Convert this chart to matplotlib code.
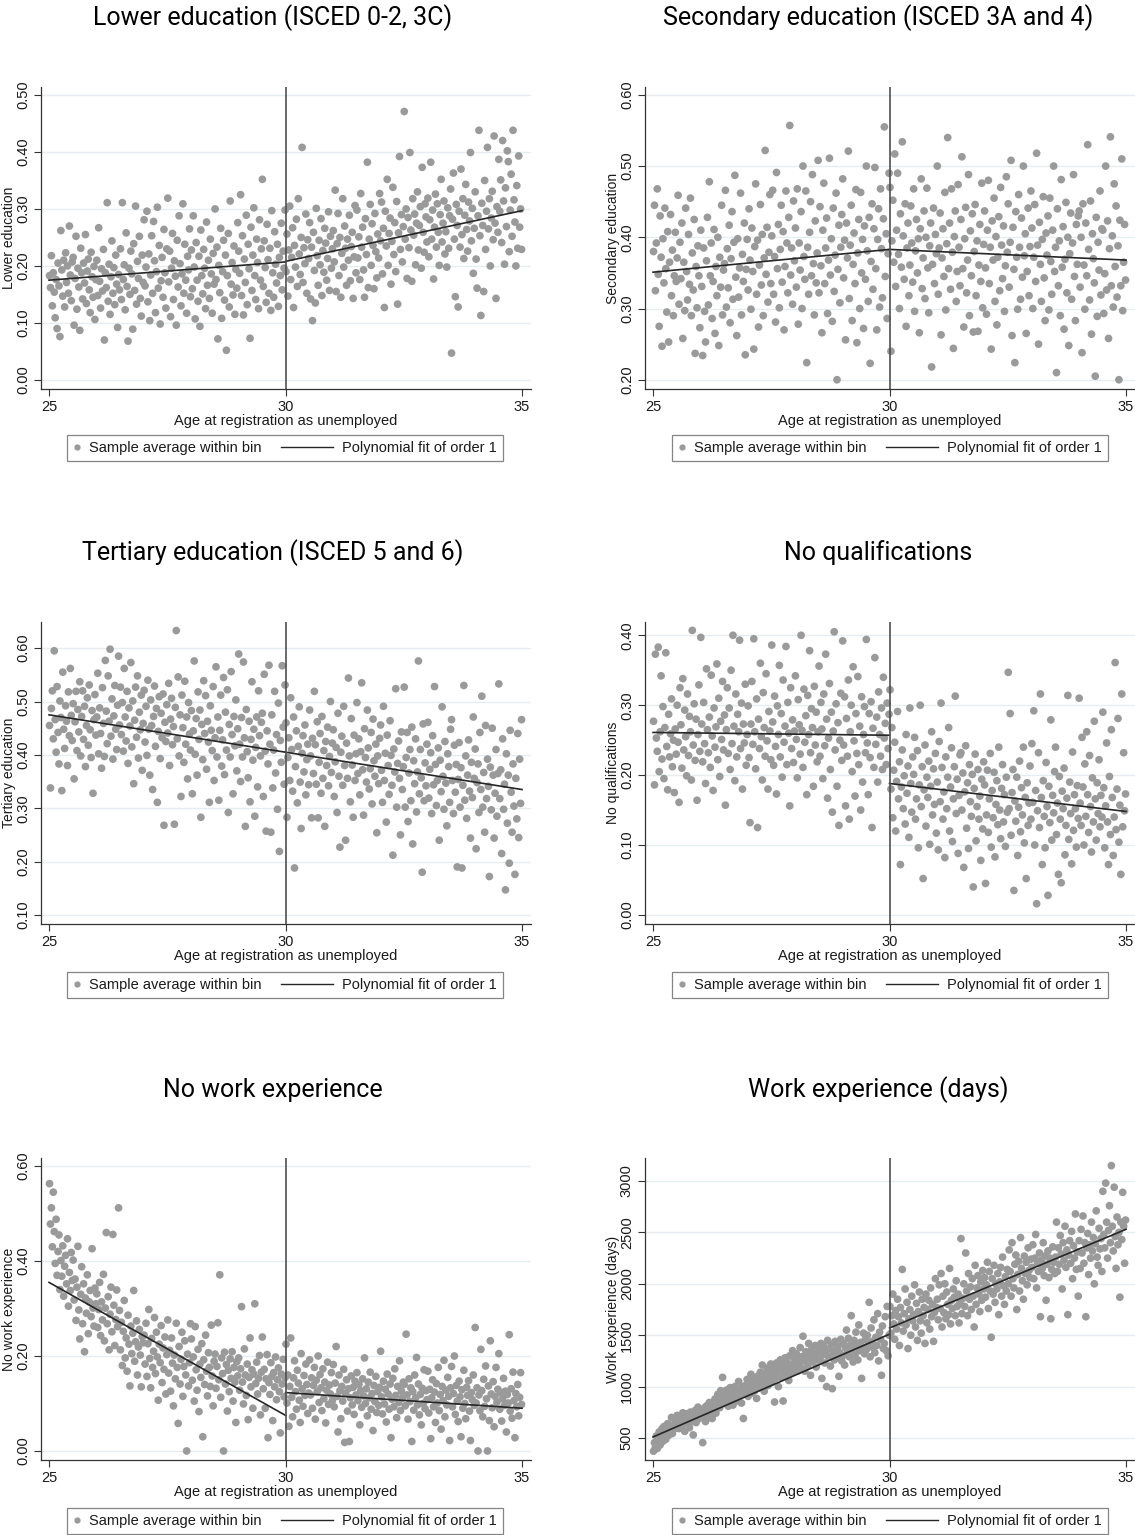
import numpy as np
import matplotlib
matplotlib.use('Agg')
import matplotlib.pyplot as plt
from matplotlib.lines import Line2D
from matplotlib.legend_handler import HandlerLine2D

# Bin averages either side of age 30 (shares in per mille, work experience in days)
lower_left = [
    183, 162, 218, 130, 188, 154, 109, 176, 90, 205, 165, 76, 262, 193, 147, 210, 128, 223, 171, 200, 152, 270, 184, 139, 207,
    215, 96, 178, 252, 124, 196, 163, 87, 231, 188, 142, 205, 170, 255, 134, 191, 212, 158, 118, 224, 181, 145, 199, 106, 176,
    210, 148, 267, 173, 126, 195, 156, 229, 70, 188, 162, 311, 138, 203, 115, 181, 244, 152, 197, 132, 219, 168, 92, 185, 158,
    230, 141, 311, 176, 202, 123, 258, 164, 68, 196, 150, 226, 186, 89, 239, 157, 305, 133, 208, 178, 252, 143, 112, 219, 171,
    281, 165, 198, 296, 137, 221, 104, 184, 253, 152, 278, 209, 118, 190, 303, 161, 236, 98, 174, 215, 145, 264, 188, 126, 230,
    319, 172, 226, 111, 196, 257, 141, 209, 182, 96, 245, 163, 288, 204, 130, 186, 309, 152, 238, 175, 117, 217, 193, 265, 146,
    228, 160, 288, 198, 107, 241, 175, 138, 217, 94, 263, 183, 151, 229, 196, 125, 277, 166, 210, 143, 247, 186, 117, 222, 168,
    300, 176, 233, 72, 201, 153, 266, 108, 190, 245, 140, 219, 52, 183, 257, 128, 314, 168, 206, 149, 235, 115, 194, 161, 276,
    226, 187, 325, 148, 253, 114, 212, 171, 289, 132, 238, 195, 73, 268, 157, 219, 302, 183, 141, 247, 206, 125, 281, 175, 230,
    352, 164, 244, 197, 136, 273, 211, 152, 231, 122, 297, 188, 145, 260, 203, 170, 238, 129, 215, 183, 275, 158, 226, 196, 298,
]
lower_right = [
    190, 256, 147, 228, 305, 176, 215, 267, 127, 236, 198, 282, 164, 318, 221, 185, 250, 408, 171, 232, 204, 291, 152, 246, 213,
    276, 142, 233, 104, 259, 192, 135, 301, 218, 166, 245, 202, 283, 148, 227, 189, 266, 240, 175, 213, 295, 157, 252, 196, 230,
    262, 207, 333, 155, 239, 292, 183, 250, 145, 222, 318, 198, 270, 231, 166, 247, 210, 289, 174, 234, 259, 143, 216, 306, 188,
    298, 214, 251, 176, 327, 233, 268, 193, 145, 283, 220, 382, 162, 247, 308, 201, 274, 236, 160, 292, 225, 179, 256, 214, 327,
    244, 312, 186, 266, 127, 296, 235, 352, 201, 257, 284, 168, 243, 338, 220, 276, 190, 313, 133, 258, 392, 229, 290, 207, 269,
    471, 247, 300, 178, 285, 232, 399, 263, 173, 318, 254, 291, 202, 275, 330, 228, 271, 304, 196, 373, 259, 224, 309, 286, 242,
    319, 216, 281, 382, 247, 298, 177, 268, 326, 233, 309, 259, 201, 290, 352, 242, 275, 314, 221, 260, 198, 302, 231, 288, 335,
    47, 282, 363, 247, 146, 308, 271, 128, 296, 233, 370, 255, 318, 213, 289, 343, 264, 226, 312, 279, 399, 244, 301, 187, 266,
    330, 212, 161, 288, 438, 253, 113, 310, 271, 155, 350, 229, 296, 408, 265, 318, 200, 284, 331, 246, 428, 275, 143, 304, 259,
    387, 296, 351, 241, 420, 314, 203, 337, 269, 402, 383, 225, 298, 361, 252, 438, 316, 277, 200, 341, 231, 393, 268, 300, 229,
]

secondary_left = [
    380, 445, 325, 392, 468, 348, 275, 430, 372, 247, 398, 336, 441, 356, 295, 408, 253, 365, 432, 318, 382, 290, 346, 407, 338,
    371, 459, 306, 393, 342, 420, 258, 365, 297, 441, 352, 312, 404, 334, 455, 290, 378, 326, 425, 237, 359, 301, 388, 346, 273,
    410, 331, 234, 385, 296, 253, 367, 428, 305, 478, 346, 392, 286, 338, 411, 265, 359, 318, 400, 248, 372, 330, 445, 291, 354,
    363, 466, 302, 384, 329, 417, 280, 370, 436, 313, 393, 487, 344, 262, 398, 316, 357, 462, 291, 376, 338, 420, 235, 355, 397,
    326, 440, 368, 299, 413, 352, 243, 387, 475, 320, 396, 274, 361, 446, 333, 404, 290, 371, 522, 348, 414, 309, 379, 460, 335,
    402, 466, 320, 373, 281, 491, 356, 418, 301, 383, 445, 337, 408, 270, 359, 465, 392, 322, 428, 557, 347, 385, 306, 451, 367,
    413, 330, 468, 278, 392, 354, 436, 300, 500, 373, 341, 465, 224, 386, 320, 407, 450, 346, 488, 363, 291, 423, 336, 378, 508,
    322, 443, 360, 266, 410, 476, 335, 385, 427, 293, 368, 511, 347, 398, 282, 441, 324, 375, 462, 200, 355, 417, 308, 386, 432,
    482, 343, 396, 256, 420, 371, 521, 314, 389, 445, 283, 362, 406, 335, 467, 252, 378, 425, 300, 463, 350, 397, 272, 416, 341,
    500, 381, 310, 428, 223, 366, 447, 327, 412, 498, 356, 270, 397, 440, 302, 468, 384, 315, 426, 555, 345, 405, 286, 377, 490,
]
secondary_right = [
    470, 240, 395, 452, 365, 517, 331, 410, 490, 376, 300, 433, 358, 534, 402, 341, 447, 275, 385, 420, 318, 361, 444, 392, 337,
    468, 296, 381, 425, 350, 398, 266, 412, 482, 328, 371, 437, 314, 400, 469, 357, 294, 388, 420, 218, 362, 441, 335, 404, 377,
    500, 320, 385, 434, 263, 371, 412, 345, 463, 298, 391, 540, 356, 420, 327, 468, 379, 244, 401, 437, 310, 352, 474, 386, 332,
    425, 513, 356, 274, 398, 442, 322, 368, 488, 290, 409, 346, 433, 267, 380, 446, 318, 395, 268, 361, 418, 338, 476, 301, 390,
    437, 357, 292, 410, 480, 335, 386, 243, 423, 368, 455, 310, 401, 277, 372, 429, 325, 470, 389, 342, 416, 296, 360, 485, 379,
    447, 330, 393, 508, 262, 414, 355, 224, 436, 372, 299, 460, 386, 313, 427, 344, 500, 374, 405, 265, 352, 441, 318, 387, 465,
    413, 300, 372, 446, 338, 518, 389, 250, 421, 362, 310, 397, 457, 343, 283, 406, 375, 430, 298, 455, 366, 320, 410, 500, 352,
    386, 210, 440, 332, 395, 290, 481, 358, 415, 271, 369, 449, 322, 400, 248, 377, 434, 313, 392, 488, 345, 283, 418, 362, 430,
    437, 330, 400, 238, 447, 361, 299, 420, 346, 530, 383, 312, 451, 264, 405, 370, 336, 205, 428, 289, 393, 354, 465, 319, 412,
    410, 293, 349, 500, 326, 423, 258, 384, 541, 332, 402, 302, 475, 359, 444, 316, 388, 200, 424, 332, 510, 297, 365, 418, 340,
]

tertiary_left = [
    455, 338, 487, 520, 430, 595, 466, 405, 528, 442, 383, 501, 470, 333, 555, 448, 412, 492, 463, 380, 518, 436, 562, 474, 427,
    496, 355, 462, 519, 408, 485, 443, 537, 398, 472, 520, 429, 491, 378, 455, 507, 418, 531, 447, 395, 483, 328, 466, 513, 437,
    471, 553, 402, 488, 440, 375, 526, 459, 397, 577, 482, 421, 548, 463, 598, 435, 505, 392, 473, 530, 448, 410, 493, 585, 456,
    527, 438, 498, 407, 562, 471, 426, 519, 384, 488, 454, 573, 415, 501, 346, 465, 527, 433, 548, 394, 480, 447, 512, 371, 459,
    521, 424, 491, 399, 540, 448, 362, 503, 455, 335, 472, 529, 416, 487, 311, 444, 509, 393, 478, 432, 514, 268, 461, 425, 494,
    441, 534, 380, 467, 506, 419, 453, 270, 489, 633, 430, 546, 398, 475, 322, 512, 451, 386, 538, 420, 471, 355, 498, 439, 409,
    483, 327, 445, 576, 401, 468, 362, 518, 429, 484, 283, 457, 391, 539, 440, 511, 373, 463, 424, 311, 492, 446, 408, 528, 352,
    432, 565, 396, 471, 315, 446, 512, 379, 428, 545, 363, 480, 409, 522, 292, 457, 396, 556, 438, 327, 472, 417, 503, 370, 449,
    589, 420, 350, 470, 396, 574, 432, 266, 485, 406, 357, 463, 312, 429, 537, 390, 448, 285, 414, 471, 340, 520, 436, 398, 461,
    478, 322, 551, 407, 257, 445, 383, 568, 420, 255, 475, 338, 409, 519, 366, 438, 298, 497, 219, 427, 386, 567, 452, 345, 531,
]
tertiary_right = [
    460, 283, 395, 432, 352, 507, 410, 332, 471, 188, 378, 445, 310, 416, 490, 349, 262, 403, 436, 368, 456, 325, 391, 420, 344,
    484, 398, 282, 431, 365, 519, 419, 345, 462, 282, 386, 440, 328, 472, 356, 408, 266, 425, 380, 452, 342, 397, 500, 367, 422,
    447, 322, 387, 414, 292, 478, 360, 227, 405, 435, 343, 491, 380, 240, 422, 356, 544, 398, 312, 468, 381, 283, 437, 352, 402,
    498, 365, 430, 325, 406, 535, 372, 287, 449, 395, 349, 484, 413, 336, 374, 442, 308, 467, 389, 360, 420, 254, 398, 346, 431,
    456, 371, 311, 491, 352, 403, 274, 437, 380, 326, 464, 399, 343, 212, 411, 368, 524, 302, 384, 426, 356, 250, 443, 335, 378,
    527, 302, 395, 442, 275, 366, 410, 314, 452, 233, 389, 346, 430, 293, 368, 576, 327, 410, 357, 180, 458, 314, 385, 342, 420,
    461, 319, 373, 404, 290, 436, 344, 528, 382, 305, 352, 413, 240, 390, 331, 490, 360, 298, 425, 347, 267, 402, 378, 311, 448,
    466, 352, 290, 418, 330, 382, 190, 354, 423, 302, 376, 188, 343, 530, 315, 398, 281, 362, 428, 332, 244, 386, 320, 471, 356,
    411, 224, 348, 383, 292, 442, 335, 510, 302, 367, 255, 455, 318, 392, 341, 172, 377, 297, 450, 362, 244, 328, 410, 285, 365,
    533, 318, 372, 215, 430, 298, 345, 147, 402, 272, 362, 197, 446, 330, 255, 383, 304, 176, 356, 280, 440, 245, 392, 309, 466,
]

noqual_left = [
    277, 186, 373, 253, 234, 383, 205, 262, 342, 223, 298, 195, 268, 375, 241, 179, 287, 226, 259, 309, 212, 250, 175, 266, 230,
    300, 247, 161, 325, 272, 210, 338, 236, 293, 255, 199, 316, 228, 284, 262, 193, 407, 243, 302, 221, 280, 164, 258, 329, 234,
    397, 273, 219, 304, 245, 188, 352, 265, 232, 283, 211, 343, 256, 178, 296, 240, 269, 359, 222, 310, 198, 277, 251, 334, 236,
    286, 157, 265, 325, 231, 296, 208, 350, 245, 400, 270, 192, 316, 226, 287, 262, 393, 238, 303, 180, 273, 246, 330, 214, 258,
    299, 225, 132, 273, 334, 244, 395, 262, 209, 309, 125, 280, 238, 360, 255, 193, 318, 268, 227, 345, 249, 180, 291, 263, 222,
    386, 276, 214, 313, 241, 173, 299, 258, 357, 226, 288, 197, 336, 247, 270, 384, 215, 304, 260, 156, 325, 238, 279, 218, 263,
    342, 251, 196, 308, 272, 230, 400, 264, 211, 323, 247, 285, 172, 314, 258, 378, 232, 295, 268, 184, 327, 243, 290, 219, 262,
    356, 227, 304, 266, 195, 316, 242, 373, 280, 167, 253, 331, 208, 290, 147, 263, 405, 236, 302, 184, 275, 128, 250, 317, 221,
    392, 243, 312, 156, 281, 227, 336, 137, 262, 300, 205, 355, 249, 170, 288, 231, 341, 215, 270, 150, 312, 190, 258, 298, 232,
    394, 246, 172, 288, 225, 305, 125, 267, 211, 368, 244, 283, 190, 319, 258, 227, 296, 208, 340, 253, 274, 215, 303, 238, 287,
]
noqual_right = [
    322, 180, 268, 139, 207, 247, 120, 191, 291, 166, 219, 72, 183, 236, 152, 199, 130, 258, 174, 213, 111, 296, 188, 147, 226,
    201, 254, 137, 166, 235, 96, 186, 300, 155, 212, 52, 179, 243, 127, 197, 168, 220, 101, 184, 262, 143, 209, 158, 231, 117,
    190, 93, 248, 162, 303, 211, 137, 176, 82, 226, 152, 197, 268, 120, 183, 239, 105, 166, 212, 313, 145, 194, 88, 171, 229,
    232, 150, 203, 68, 176, 242, 124, 189, 95, 215, 162, 141, 201, 40, 181, 230, 106, 155, 208, 137, 170, 78, 194, 123, 219,
    186, 45, 143, 207, 118, 166, 231, 97, 178, 139, 204, 83, 158, 192, 129, 240, 150, 109, 181, 215, 133, 172, 98, 197, 147,
    347, 152, 288, 114, 175, 208, 35, 163, 134, 197, 85, 154, 220, 119, 182, 143, 240, 103, 168, 52, 189, 128, 160, 213, 137,
    245, 161, 292, 100, 178, 16, 149, 232, 125, 316, 168, 72, 192, 141, 96, 218, 155, 28, 184, 132, 279, 107, 171, 146, 205,
    240, 115, 160, 58, 198, 137, 46, 177, 152, 210, 86, 128, 167, 314, 108, 190, 145, 73, 233, 121, 172, 152, 97, 185, 138,
    310, 160, 128, 254, 183, 100, 216, 141, 262, 172, 118, 228, 155, 90, 196, 133, 277, 166, 107, 189, 145, 222, 126, 171, 140,
    290, 182, 96, 156, 246, 133, 72, 198, 115, 265, 168, 85, 140, 361, 122, 180, 281, 104, 157, 58, 316, 126, 232, 149, 173,
]

nowork_left = [
    563, 478, 512, 430, 545, 462, 395, 488, 370, 420, 455, 340, 401, 368, 432, 326, 389, 412, 352, 447, 305, 376, 338, 418, 359,
    402, 318, 362, 275, 345, 431, 297, 236, 330, 388, 268, 352, 209, 322, 290, 371, 247, 314, 338, 283, 426, 301, 263, 343, 310,
    331, 260, 298, 355, 243, 314, 276, 372, 232, 301, 460, 268, 325, 213, 288, 345, 251, 456, 307, 222, 277, 339, 262, 512, 296,
    213, 271, 180, 252, 317, 196, 238, 168, 286, 225, 137, 263, 205, 248, 338, 189, 230, 274, 160, 219, 256, 202, 135, 241, 228,
    244, 183, 269, 157, 226, 298, 195, 133, 237, 176, 210, 281, 163, 250, 198, 107, 225, 186, 264, 144, 217, 172, 240, 120, 203,
    276, 164, 212, 126, 238, 185, 95, 202, 152, 269, 176, 58, 220, 141, 193, 250, 115, 178, 232, 160, 0, 204, 137, 186, 268,
    236, 149, 198, 105, 262, 171, 128, 214, 83, 183, 155, 226, 30, 192, 140, 244, 168, 116, 207, 176, 136, 265, 158, 95, 189,
    204, 132, 178, 270, 150, 371, 113, 196, 163, 0, 208, 141, 182, 84, 170, 125, 194, 153, 209, 105, 176, 145, 60, 188, 158,
    196, 128, 173, 304, 145, 99, 215, 160, 117, 183, 66, 155, 238, 135, 171, 90, 162, 310, 142, 187, 120, 153, 201, 76, 166,
    240, 131, 172, 90, 152, 203, 28, 144, 119, 186, 157, 64, 165, 135, 198, 108, 150, 175, 125, 38, 162, 141, 193, 114, 155,
]
nowork_right = [
    225, 101, 160, 52, 136, 238, 113, 72, 154, 190, 125, 88, 170, 143, 107, 60, 205, 131, 94, 159, 117, 183, 140, 79, 122,
    192, 118, 154, 90, 138, 176, 67, 149, 125, 200, 102, 161, 133, 85, 173, 110, 145, 59, 128, 187, 98, 139, 120, 165, 106,
    182, 93, 143, 220, 115, 40, 160, 127, 68, 136, 105, 172, 18, 121, 150, 84, 131, 20, 112, 158, 97, 134, 77, 147, 118,
    165, 106, 140, 55, 127, 92, 152, 116, 196, 100, 131, 74, 145, 112, 166, 88, 121, 43, 138, 104, 157, 81, 125, 96, 134,
    210, 114, 78, 147, 99, 130, 61, 162, 120, 88, 141, 28, 109, 153, 93, 173, 117, 70, 136, 102, 190, 85, 126, 111, 145,
    140, 95, 246, 118, 67, 152, 104, 133, 20, 125, 86, 160, 112, 197, 97, 141, 76, 119, 55, 132, 100, 171, 89, 127, 108,
    168, 80, 130, 26, 112, 150, 93, 124, 60, 142, 101, 176, 85, 119, 46, 136, 106, 191, 72, 128, 97, 155, 115, 22, 133,
    178, 93, 121, 200, 77, 138, 105, 62, 147, 114, 30, 129, 90, 170, 100, 68, 134, 117, 148, 84, 22, 123, 108, 160, 96,
    260, 101, 133, 0, 118, 85, 214, 127, 72, 151, 94, 179, 110, 0, 137, 64, 232, 120, 91, 146, 51, 115, 176, 103, 130,
    205, 88, 123, 63, 110, 153, 96, 126, 40, 119, 101, 245, 84, 131, 69, 166, 106, 28, 121, 93, 140, 74, 113, 165, 98,
]

workdays_left = [
    372, 455, 410, 520, 398, 478, 560, 432, 505, 590, 468, 612, 540, 487, 575, 640, 526, 603, 568, 700, 544, 622, 590, 665, 610,
    720, 648, 592, 705, 676, 620, 745, 690, 565, 712, 735, 640, 688, 600, 752, 715, 660, 530, 705, 768, 650, 724, 800, 688, 742,
    770, 705, 455, 738, 795, 660, 812, 752, 700, 845, 780, 712, 690, 826, 770, 880, 742, 808, 925, 860, 795, 960, 845, 1090, 905,
    900, 835, 965, 875, 810, 930, 990, 860, 950, 820, 905, 1000, 880, 940, 860, 1050, 915, 975, 840, 1000, 690, 930, 1010, 965, 1070,
    905, 1040, 980, 1120, 935, 1010, 1080, 960, 1035, 885, 1100, 1060, 990, 1140, 1020, 1210, 1070, 955, 1130, 1050, 1180, 1010, 1150, 1100, 1220,
    1040, 1190, 1120, 850, 1080, 1230, 1150, 1000, 1170, 1260, 1090, 1200, 860, 1140, 1280, 1110, 1240, 1180, 1060, 1300, 1210, 1130, 1350, 1170, 1260,
    1210, 1320, 1150, 1280, 1230, 1380, 1180, 1290, 1490, 1250, 1150, 1340, 1270, 1200, 1420, 1310, 1110, 1360, 1240, 1330, 1280, 1400, 1190, 1300, 1260,
    1350, 1260, 1420, 1080, 1310, 1390, 1230, 1330, 1000, 1450, 1290, 1370, 1200, 1410, 980, 1320, 1260, 1440, 1350, 1280, 1390, 1100, 1330, 1460, 1250,
    1300, 1420, 1210, 1380, 1550, 1330, 1470, 1290, 1400, 1690, 1360, 1240, 1450, 1310, 1530, 1390, 1260, 1600, 1350, 1430, 1080, 1380, 1520, 1320, 1460,
    1360, 1500, 1410, 1820, 1290, 1570, 1440, 1380, 1650, 1330, 1480, 1400, 1710, 1250, 1530, 1460, 1110, 1590, 1370, 1420, 1680, 1350, 1780, 1300, 1500,
]
workdays_right = [
    1780, 1520, 1690, 1900, 1610, 1460, 1740, 1560, 1850, 1680, 1400, 1770, 1620, 2140, 1540, 1710, 1950, 1600, 1820, 1370, 1660, 1750, 1500, 1880, 1640,
    1700, 1990, 1580, 1810, 1450, 1730, 1920, 1640, 1520, 1850, 1690, 1770, 1420, 1900, 1620, 1750, 1840, 1560, 1960, 1680, 1800, 1440, 1720, 2050, 1770,
    1850, 1650, 1990, 1760, 2100, 1580, 1880, 1720, 2000, 1660, 1920, 1800, 1700, 2150, 1610, 1840, 1760, 1950, 1870, 1690, 2030, 1780, 1900, 1620, 1820,
    2440, 1710, 1860, 2000, 1780, 2300, 1930, 1690, 2100, 1850, 1970, 1750, 2050, 1880, 1580, 2180, 1800, 1960, 2080, 1900, 1730, 2020, 1840, 2130, 1950,
    2060, 1870, 1990, 2210, 1760, 2120, 1930, 1480, 2050, 1900, 2180, 1820, 2000, 1950, 2100, 1700, 2020, 2160, 1880, 2260, 1980, 1800, 2070, 1930, 2140,
    2000, 2330, 2120, 1880, 2400, 2050, 1960, 2190, 2280, 1750, 2090, 2220, 1930, 2450, 2150, 2030, 1850, 2270, 2100, 2210, 1990, 2350, 2130, 2060, 2240,
    2160, 2380, 2050, 2250, 2480, 1960, 2200, 2120, 2300, 1680, 2230, 2150, 2400, 2080, 2270, 1840, 2190, 2320, 2060, 2250, 1660, 2140, 2360, 2210, 2100,
    2260, 2600, 2120, 2350, 2190, 2470, 2290, 1950, 2400, 2230, 2560, 2160, 2330, 1700, 2280, 2420, 2200, 2510, 2050, 2370, 2250, 2680, 2140, 2310, 1880,
    2420, 2150, 2530, 2300, 2660, 2200, 2400, 1680, 2350, 2490, 2090, 2380, 2250, 2600, 2320, 2450, 2000, 2390, 2710, 2260, 2180, 2540, 2340, 2440, 2120,
    2900, 2480, 2350, 2980, 2600, 2250, 2520, 2760, 2400, 3150, 2560, 2320, 2940, 2460, 2150, 2650, 2380, 2500, 1870, 2600, 2430, 2890, 2560, 2200, 2620,
]

# Linear fits on each side: [value at start, value at end]
lower_fit = [[0.175, 0.207], [0.208, 0.297]]
secondary_fit = [[0.351, 0.383], [0.383, 0.368]]
tertiary_fit = [[0.475, 0.405], [0.405, 0.335]]
noqual_fit = [[0.261, 0.257], [0.188, 0.148]]
nowork_fit = [[0.355, 0.075], [0.123, 0.090]]
workdays_fit = [[510, 1510], [1570, 2530]]

titles = ['Lower education (ISCED 0-2, 3C)', 'Secondary education (ISCED 3A and 4)',
          'Tertiary education (ISCED 5 and 6)', 'No qualifications',
          'No work experience', 'Work experience (days)']
ylabels = ['Lower education', 'Secondary education', 'Tertiary education',
           'No qualifications', 'No work experience', 'Work experience (days)']

panels = [
    (lower_left, lower_right, lower_fit, 1000, (-0.016, 0.514), np.arange(0, 0.51, 0.1), '{:.2f}'),
    (secondary_left, secondary_right, secondary_fit, 1000, (0.187, 0.611), np.arange(0.2, 0.61, 0.1), '{:.2f}'),
    (tertiary_left, tertiary_right, tertiary_fit, 1000, (0.083, 0.649), np.arange(0.1, 0.61, 0.1), '{:.2f}'),
    (noqual_left, noqual_right, noqual_fit, 1000, (-0.013, 0.419), np.arange(0, 0.41, 0.1), '{:.2f}'),
    (nowork_left, nowork_right, nowork_fit, 1000, (-0.019, 0.617), np.arange(0, 0.61, 0.2), '{:.2f}'),
    (workdays_left, workdays_right, workdays_fit, 1, (286, 3224), np.arange(500, 3001, 500), '{:.0f}'),
]

W, H = 1135, 1535
col_left = [41, 645]
ax_w = 490
row_top = [87, 622, 1158]
ax_h = 302
title_x = [273, 878]
title_y = [18, 553, 1090]
legend_x = [285, 890]
legend_y = [448, 985, 1521]

dot_color = '#9a9a9a'
ink = '#1a1a1a'
axis_font = 'Liberation Sans'


class DotHandler(HandlerLine2D):
    # short handle box so the dot sits right next to its label
    def legend_artist(self, legend, orig_handle, fontsize, handlebox):
        handlebox.width = 0.5 * fontsize
        return super().legend_artist(legend, orig_handle, fontsize, handlebox)


fig = plt.figure(figsize=(W / 100, H / 100), dpi=100)

for i, (left, right, fit, scale, ylim, yticks, fmt) in enumerate(panels):
    r, c = divmod(i, 2)
    x0, y0 = col_left[c], row_top[r]
    ax = fig.add_axes([x0 / W, 1 - (y0 + ax_h) / H, ax_w / W, ax_h / H])

    yl = np.array(left) / scale
    yr = np.array(right) / scale
    xl = 25 + 5 * (np.arange(len(yl)) + 0.5) / len(yl)
    xr = 30 + 5 * (np.arange(len(yr)) + 0.5) / len(yr)

    ax.scatter(xl, yl, s=31, color=dot_color, edgecolors='none', zorder=2)
    ax.scatter(xr, yr, s=31, color=dot_color, edgecolors='none', zorder=2)
    ax.plot([25, 30], fit[0], color='#262626', lw=1.2, zorder=3)
    ax.plot([30, 35], fit[1], color='#262626', lw=1.2, zorder=3)
    ax.axvline(30, color='#505050', lw=1.2, zorder=3)

    ax.set_xlim(24.83, 35.19)
    ax.set_ylim(*ylim)
    ax.set_xticks([25, 30, 35])
    ax.set_yticks(yticks)
    ax.set_yticklabels([fmt.format(v) for v in yticks], rotation=90, va='center',
                       family=axis_font, fontsize=10.5)
    ax.set_xticklabels(['25', '30', '35'], family=axis_font, fontsize=10.5)
    ax.tick_params(direction='out', length=5, width=0.8, color='#333333',
                   labelcolor=ink)
    ax.tick_params(axis='x', pad=3)
    ax.tick_params(axis='y', pad=3)

    ax.yaxis.grid(True, color='#e4eef0', lw=1)
    ax.set_axisbelow(True)
    for side in ['top', 'right']:
        ax.spines[side].set_visible(False)
    for side in ['left', 'bottom']:
        ax.spines[side].set_color('#333333')
        ax.spines[side].set_linewidth(0.9)

    ax.set_xlabel('Age at registration as unemployed', family=axis_font,
                  fontsize=10.5, color=ink, labelpad=0)
    ax.set_ylabel(ylabels[i], family=axis_font, fontsize=10, color=ink, labelpad=0)

    fig.text(title_x[c] / W, 1 - title_y[r] / H, titles[i], ha='center', va='center',
             family='Roboto', fontsize=18, color='#000000')

    dot = Line2D([], [], ls='none', marker='o', ms=3.5, color=dot_color)
    line = Line2D([], [], color='#262626', lw=1)
    leg = ax.legend([dot, line], ['Sample average within bin', 'Polynomial fit of order 1'],
                    ncol=2, loc='center',
                    bbox_to_anchor=(legend_x[c] / W, 1 - legend_y[r] / H),
                    bbox_transform=fig.transFigure, frameon=True, fancybox=False,
                    edgecolor='#666666', handlelength=3.6,
                    handletextpad=0.6, columnspacing=1.3, borderpad=0.4,
                    prop={'family': axis_font, 'size': 10.5},
                    handler_map={dot: DotHandler()})
    leg.get_frame().set_linewidth(0.9)
    for t in leg.get_texts():
        t.set_color(ink)

fig.savefig('out.png', dpi=100)
